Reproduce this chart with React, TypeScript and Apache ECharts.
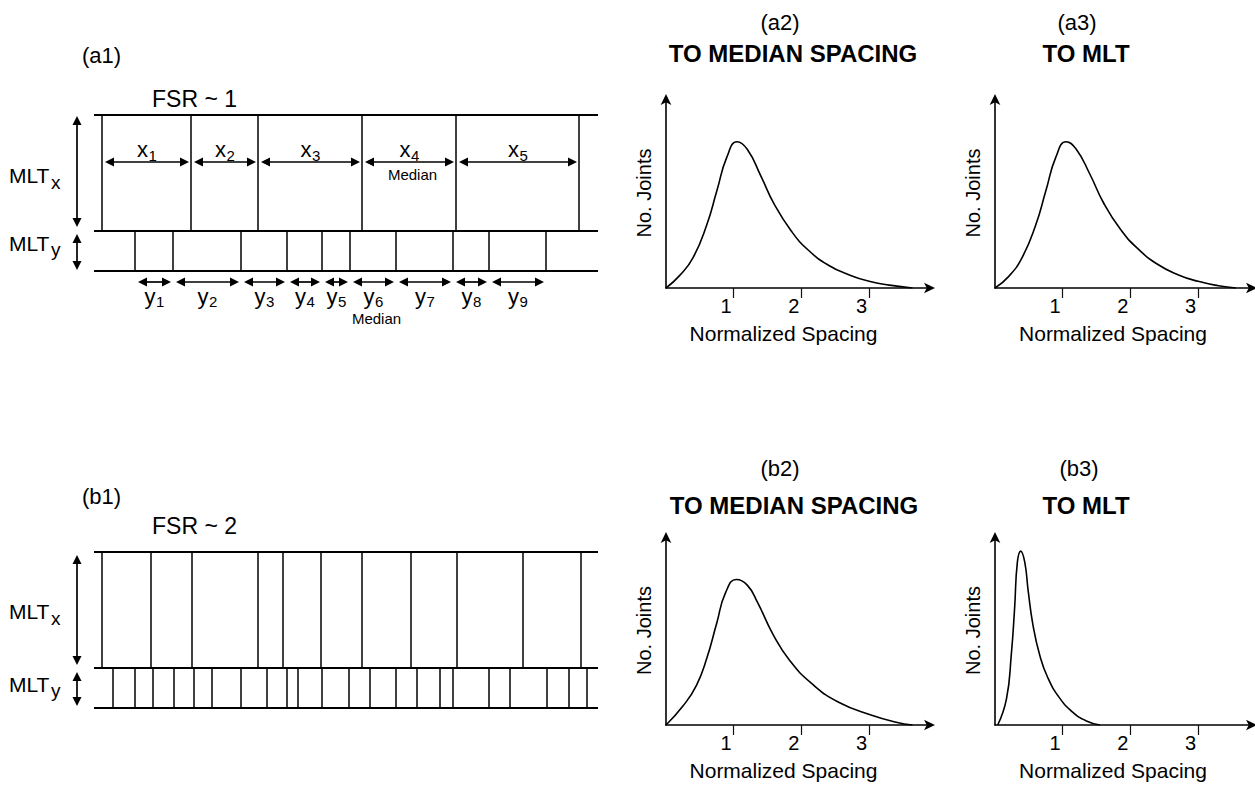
import React, { useEffect, useRef } from "react";
import * as echarts from "echarts";

const FONT = '"Liberation Sans", Arial, Helvetica, sans-serif';

// ---- Schematic sections (positions in px along the section, depths in px below the top surface)
const SECTION_LENGTH = 504;
const LAYER_DEPTHS = [0, 116, 156];

const a1UpperJoints = [8, 97, 164, 268, 362, 485];
const a1LowerJoints = [41, 79, 147, 193, 228, 256, 302, 359, 395, 452];
const b1UpperJoints = [8, 57, 98, 164, 189, 227, 268, 317, 363, 429, 487];
const b1LowerJoints = [19, 41, 59, 80, 100, 118, 147, 173, 193, 204, 228, 255, 276, 302, 323, 346, 359, 395, 416, 453, 475, 493];

const a1UpperMedianIndex = 3; // x4
const a1LowerMedianIndex = 5; // y6

// ---- Distribution curves: [normalized spacing, relative number of joints]
const tickValues = [1, 2, 3];

const a2Curve = [
  [0, 0], [0.2, 6.5], [0.4, 16], [0.6, 33], [0.75, 51], [0.9, 69], [1.05, 77], [1.2, 73],
  [1.4, 59], [1.6, 44], [1.85, 30], [2.1, 20], [2.4, 12], [2.7, 7], [3.0, 3.5], [3.3, 1.5], [3.64, 0],
];
const a3Curve = [
  [0, 0], [0.2, 6], [0.4, 16], [0.6, 33], [0.75, 51], [0.9, 69], [1.05, 77], [1.2, 73],
  [1.4, 60], [1.6, 45], [1.85, 31], [2.1, 21], [2.4, 12.5], [2.7, 7], [3.0, 3.5], [3.3, 1.2], [3.56, 0],
];
const b2Curve = [
  [0, 0], [0.25, 10], [0.45, 21], [0.6, 35], [0.75, 54], [0.88, 70], [1.04, 77], [1.2, 74],
  [1.35, 65], [1.58, 48], [1.83, 34], [2.15, 22], [2.55, 12], [3.05, 5], [3.4, 1.5], [3.64, 0],
];
const b3Curve = [
  [0.04, 0], [0.17, 14], [0.24, 37], [0.29, 62], [0.33, 86], [0.38, 92], [0.44, 86], [0.49, 71],
  [0.56, 53], [0.66, 37], [0.78, 25], [0.95, 14.5], [1.15, 6.7], [1.34, 2.3], [1.55, 0],
];

// ---------------------------------------------------------------------------
const txt = (x: number, y: number, text: string, size: number, align = "left", bold = false) => ({
  type: "text",
  x,
  y,
  silent: true,
  style: {
    text,
    fontSize: size,
    fontFamily: FONT,
    fontWeight: bold ? "bold" : "normal",
    fill: "#000",
    align,
    verticalAlign: "middle",
  },
});

function segmentSeries(axisIndex: number, upper: number[], lower: number[]) {
  const data: number[][] = [];
  LAYER_DEPTHS.forEach((d) => data.push([0, d, SECTION_LENGTH, d, 2]));
  upper.forEach((x) => data.push([x, LAYER_DEPTHS[0], x, LAYER_DEPTHS[1], 1.5]));
  lower.forEach((x) => data.push([x, LAYER_DEPTHS[1], x, LAYER_DEPTHS[2], 1.5]));
  return {
    type: "custom",
    coordinateSystem: "cartesian2d",
    xAxisIndex: axisIndex,
    yAxisIndex: axisIndex,
    clip: false,
    silent: true,
    data,
    renderItem: (_p: any, api: any) => {
      const a = api.coord([api.value(0), api.value(1)]);
      const b = api.coord([api.value(2), api.value(3)]);
      return {
        type: "line",
        shape: { x1: a[0], y1: a[1], x2: b[0], y2: b[1] },
        style: { stroke: "#000", lineWidth: api.value(4) },
      };
    },
  };
}

function arrowHeads(ax: number, ay: number, bx: number, by: number) {
  const len = Math.hypot(bx - ax, by - ay) || 1;
  const ux = (bx - ax) / len;
  const uy = (by - ay) / len;
  const L = 9;
  const W = 4.5;
  const head = (tx: number, ty: number, dx: number, dy: number) => ({
    type: "polygon",
    shape: {
      points: [
        [tx, ty],
        [tx + dx * L - dy * W, ty + dy * L + dx * W],
        [tx + dx * L + dy * W, ty + dy * L - dx * W],
      ],
    },
    style: { fill: "#000" },
  });
  return [
    {
      type: "line",
      shape: { x1: ax + ux * 3, y1: ay + uy * 3, x2: bx - ux * 3, y2: by - uy * 3 },
      style: { stroke: "#000", lineWidth: 1.7 },
    },
    head(ax, ay, ux, uy),
    head(bx, by, -ux, -uy),
  ];
}

function spacingSeries(
  axisIndex: number,
  joints: number[],
  letter: string,
  arrowDepth: number,
  labelDepth: number,
  subOffset: number,
  medianIndex: number,
  medianDepth: number
) {
  const data: number[][] = [];
  for (let i = 0; i < joints.length - 1; i++) data.push([joints[i] + 3, joints[i + 1] - 2, arrowDepth]);
  return {
    type: "custom",
    coordinateSystem: "cartesian2d",
    xAxisIndex: axisIndex,
    yAxisIndex: axisIndex,
    clip: false,
    silent: true,
    data,
    renderItem: (params: any, api: any) => {
      const a = api.coord([api.value(0), api.value(2)]);
      const b = api.coord([api.value(1), api.value(2)]);
      const ly = api.coord([0, labelDepth])[1];
      const cx = (a[0] + b[0]) / 2;
      const children: any[] = arrowHeads(a[0], a[1], b[0], b[1]);
      children.push({
        type: "text",
        x: cx - 10,
        y: ly,
        style: { text: letter, fontSize: 22, fontFamily: FONT, fill: "#000", align: "left", verticalAlign: "middle" },
      });
      children.push({
        type: "text",
        x: cx + 1.5,
        y: ly + subOffset,
        style: {
          text: String(params.dataIndex + 1),
          fontSize: 15,
          fontFamily: FONT,
          fill: "#000",
          align: "left",
          verticalAlign: "middle",
        },
      });
      if (params.dataIndex === medianIndex) {
        children.push({
          type: "text",
          x: cx + 3,
          y: api.coord([0, medianDepth])[1],
          style: { text: "Median", fontSize: 15, fontFamily: FONT, fill: "#000", align: "center", verticalAlign: "middle" },
        });
      }
      return { type: "group", children };
    },
  };
}

function thicknessArrowSeries(axisIndex: number, arrows: number[][]) {
  return {
    type: "custom",
    coordinateSystem: "cartesian2d",
    xAxisIndex: axisIndex,
    yAxisIndex: axisIndex,
    clip: false,
    silent: true,
    data: arrows,
    renderItem: (_p: any, api: any) => {
      const a = api.coord([api.value(0), api.value(1)]);
      const b = api.coord([api.value(0), api.value(2)]);
      return { type: "group", children: arrowHeads(a[0], a[1], b[0], b[1]) };
    },
  };
}

const schematicX = (gridIndex: number) => ({
  type: "value",
  gridIndex,
  min: 0,
  max: SECTION_LENGTH,
  show: false,
});
const schematicY = (gridIndex: number) => ({
  type: "value",
  gridIndex,
  min: 0,
  max: LAYER_DEPTHS[2],
  inverse: true,
  show: false,
});

const curveX = (gridIndex: number, max: number, namePad: number) => ({
  type: "value",
  gridIndex,
  min: 0,
  max,
  interval: 1,
  axisLine: {
    show: true,
    onZero: false,
    symbol: ["none", "arrow"],
    symbolSize: [8, 11],
    symbolOffset: [0, 4],
    lineStyle: { color: "#000", width: 1.6 },
  },
  axisTick: { show: true, customValues: tickValues, length: 10, lineStyle: { color: "#111", width: 1.2 } },
  axisLabel: {
    show: true,
    customValues: tickValues,
    align: "right",
    margin: 8,
    padding: [0, 2, 0, 0],
    fontSize: 20,
    fontFamily: FONT,
    color: "#000",
  },
  splitLine: { show: false },
  name: "Normalized Spacing",
  nameLocation: "middle",
  nameGap: 35,
  nameTextStyle: { fontSize: 21, fontFamily: FONT, color: "#000", padding: [0, namePad, 0, 0] },
});

const curveY = (gridIndex: number) => ({
  type: "value",
  gridIndex,
  min: 0,
  max: 100,
  axisLine: {
    show: true,
    onZero: false,
    symbol: ["none", "arrow"],
    symbolSize: [8, 11],
    symbolOffset: [0, 4],
    lineStyle: { color: "#000", width: 1.6 },
  },
  axisTick: { show: false },
  axisLabel: { show: false },
  splitLine: { show: false },
  name: "No. Joints",
  nameLocation: "middle",
  nameGap: 12,
  nameTextStyle: { fontSize: 20, fontFamily: FONT, color: "#000" },
});

const curveSeries = (axisIndex: number, data: number[][]) => ({
  type: "line",
  xAxisIndex: axisIndex,
  yAxisIndex: axisIndex,
  data,
  smooth: 0.5,
  showSymbol: false,
  silent: true,
  lineStyle: { color: "#000", width: 1.6 },
});

const option: any = {
  animation: false,
  backgroundColor: "#fff",
  grid: [
    { left: 94, top: 115, width: SECTION_LENGTH, height: LAYER_DEPTHS[2] },
    { left: 94, top: 552, width: SECTION_LENGTH, height: LAYER_DEPTHS[2] },
    { left: 666, top: 98, width: 265, height: 190 },
    { left: 995, top: 98, width: 258, height: 190 },
    { left: 666, top: 536, width: 265, height: 189 },
    { left: 995, top: 536, width: 258, height: 189 },
  ],
  xAxis: [schematicX(0), schematicX(1), curveX(2, 3.914, 30), curveX(3, 3.81, 22), curveX(4, 3.914, 30), curveX(5, 3.81, 22)],
  yAxis: [schematicY(0), schematicY(1), curveY(2), curveY(3), curveY(4), curveY(5)],
  series: [
    segmentSeries(0, a1UpperJoints, a1LowerJoints),
    segmentSeries(1, b1UpperJoints, b1LowerJoints),
    spacingSeries(0, a1UpperJoints, "x", 47, 34, 6, a1UpperMedianIndex, 59),
    spacingSeries(0, a1LowerJoints, "y", 167, 181, 5.5, a1LowerMedianIndex, 203),
    thicknessArrowSeries(0, [[-17, 1, 112], [-17, 119, 155]]),
    thicknessArrowSeries(1, [[-17, 3, 113], [-17, 120, 154]]),
    curveSeries(2, a2Curve),
    curveSeries(3, a3Curve),
    curveSeries(4, b2Curve),
    curveSeries(5, b3Curve),
  ],
  graphic: [
    txt(82, 55, "(a1)", 22),
    txt(152, 99, "FSR ~ 1", 23),
    txt(9, 175, "MLT", 21),
    txt(51, 182, "x", 19),
    txt(9, 243, "MLT", 21),
    txt(51, 249, "y", 19),
    txt(82, 496, "(b1)", 22),
    txt(152, 526, "FSR ~ 2", 23),
    txt(9, 611, "MLT", 21),
    txt(51, 618, "x", 19),
    txt(9, 684, "MLT", 21),
    txt(51, 690, "y", 19),
    txt(780, 22, "(a2)", 22, "center"),
    txt(793, 53, "TO MEDIAN SPACING", 24, "center", true),
    txt(1077, 22, "(a3)", 22, "center"),
    txt(1086, 53, "TO MLT", 24, "center", true),
    txt(780, 468, "(b2)", 22, "center"),
    txt(794, 505, "TO MEDIAN SPACING", 24, "center", true),
    txt(1079, 468, "(b3)", 22, "center"),
    txt(1086, 505, "TO MLT", 24, "center", true),
  ],
};

export default function App() {
  const ref = useRef<HTMLDivElement>(null);
  useEffect(() => {
    if (!ref.current) return;
    const chart = echarts.init(ref.current, null, { renderer: "svg" });
    chart.setOption(option);
    return () => chart.dispose();
  }, []);
  return (
    <div
      ref={ref}
      style={{ position: "fixed", left: 0, top: 0, width: 1255, height: 785, background: "#fff" }}
    />
  );
}
